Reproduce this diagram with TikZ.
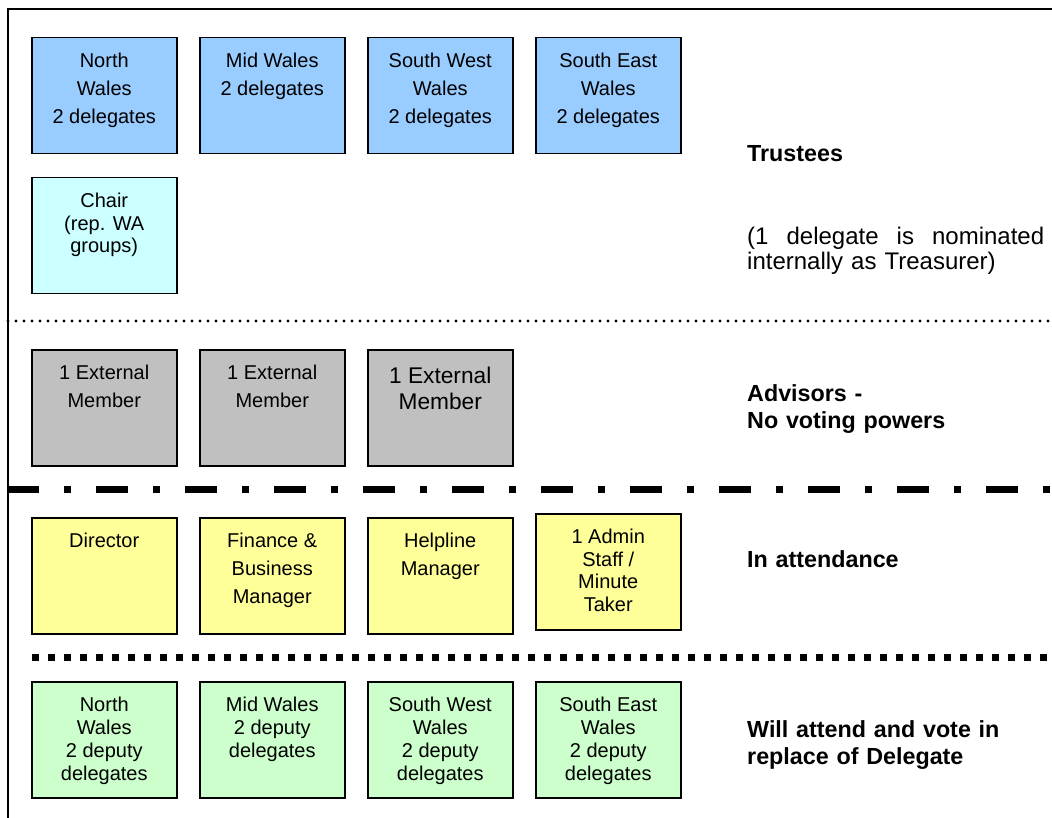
\documentclass[tikz,border=0pt]{standalone}
\usepackage{fontspec}
\setmainfont{Liberation Sans}
\usetikzlibrary{positioning}

\definecolor{trusteeblue}{HTML}{99CCFF}
\definecolor{chaircyan}{HTML}{CCFFFF}
\definecolor{advisorgrey}{HTML}{C0C0C0}
\definecolor{staffyellow}{HTML}{FFFF99}
\definecolor{deputygreen}{HTML}{CCFFCC}

\newcommand{\celltext}[2][30pt]{\parbox[t][116pt][t]{145pt}{\centering\rule{0pt}{#1}#2}}

\begin{document}
\begin{tikzpicture}[
	x=1pt,
	y=-1pt,
	every cell/.style={draw=black, line width=1.5pt, inner sep=0pt, anchor=north west, font=\fontsize{20}{28}\selectfont},
	cell trustee/.style={fill=trusteeblue},
	cell chair/.style={fill=chaircyan, font=\fontsize{20}{22.5}\selectfont},
	cell advisor/.style={fill=advisorgrey},
	cell staff/.style={fill=staffyellow},
	cell deputy/.style={fill=deputygreen, font=\fontsize{20}{23}\selectfont},
	heading/.style={anchor=base west, inner sep=0pt, text width=300pt, align=left, font=\fontsize{23.3}{27.6}\selectfont\bfseries},
	note/.style={anchor=base west, inner sep=0pt, text width=297pt, align=left, font=\fontsize{24}{25}\selectfont}
]

\useasboundingbox (0, 0) rectangle (1052, 818);

\foreach \l [count=\i] in {{North\\Wales\\2 delegates}, {Mid Wales\\2 delegates}, {South West\\Wales\\2 delegates}, {South East\\Wales\\2 delegates}}
	\node [every cell/.try, cell trustee] (trustee-\i) at (31+168*\i-168, 37) {\celltext{\l}};

\node [every cell/.try, cell chair] (chair) at (31, 177) {\celltext{Chair\\(rep. WA\\groups)}};

\foreach \i in {1, 2}
	\node [every cell/.try, cell advisor] (advisor-\i) at (31+168*\i-168, 349) {\celltext{1 External\\Member}};

\node [every cell/.try, cell advisor, font=\fontsize{22.7}{26}\selectfont] (advisor-3) at (367, 349) {\celltext[34pt]{1 External\\Member}};

\foreach \l [count=\i] in {Director, {Finance \&\\Business\\Manager}, {Helpline\\Manager}}
	\node [every cell/.try, cell staff] (staff-\i) at (31+168*\i-168, 517) {\celltext{\l}};

\node [every cell/.try, cell staff, font=\fontsize{20}{22.5}\selectfont] (staff-4) at (535, 513) {\celltext{1 Admin\\Staff /\\Minute\\Taker}};

\foreach \l [count=\i] in {{North\\Wales\\2 deputy\\delegates}, {Mid Wales\\2 deputy\\delegates}, {South West\\Wales\\2 deputy\\delegates}, {South East\\Wales\\2 deputy\\delegates}}
	\node [every cell/.try, cell deputy] (deputy-\i) at (31+168*\i-168, 681) {\celltext{\l}};

\node [heading] (trustees-text) at (747, 162) {Trustees};
\node [note] (treasurer-text) at (747, 245) {(1\hfill delegate\hfill is\hfill nominated\\internally as Treasurer)};
\node [heading] (advisors-text) at (747, 401) {Advisors -\\No voting powers};
\node [heading] (attendance-text) at (747, 567) {In attendance};
\node [heading] (deputies-text) at (747, 737) {Will attend and vote in\\replace of Delegate};

\draw [line width=2pt] (8, 818) -- (8, 9) -- (1052, 9);
\draw [line width=3.2pt, line cap=round, dash pattern=on 0pt off 8pt] (8, 321) -- (1052, 321);
\draw [line width=7pt, dash pattern=on 32pt off 25pt on 7pt off 25pt] (7, 489) -- (1052, 489);
\draw [line width=7pt, dash pattern=on 7pt off 9pt] (32, 657) -- (1052, 657);

\end{tikzpicture}
\end{document}
